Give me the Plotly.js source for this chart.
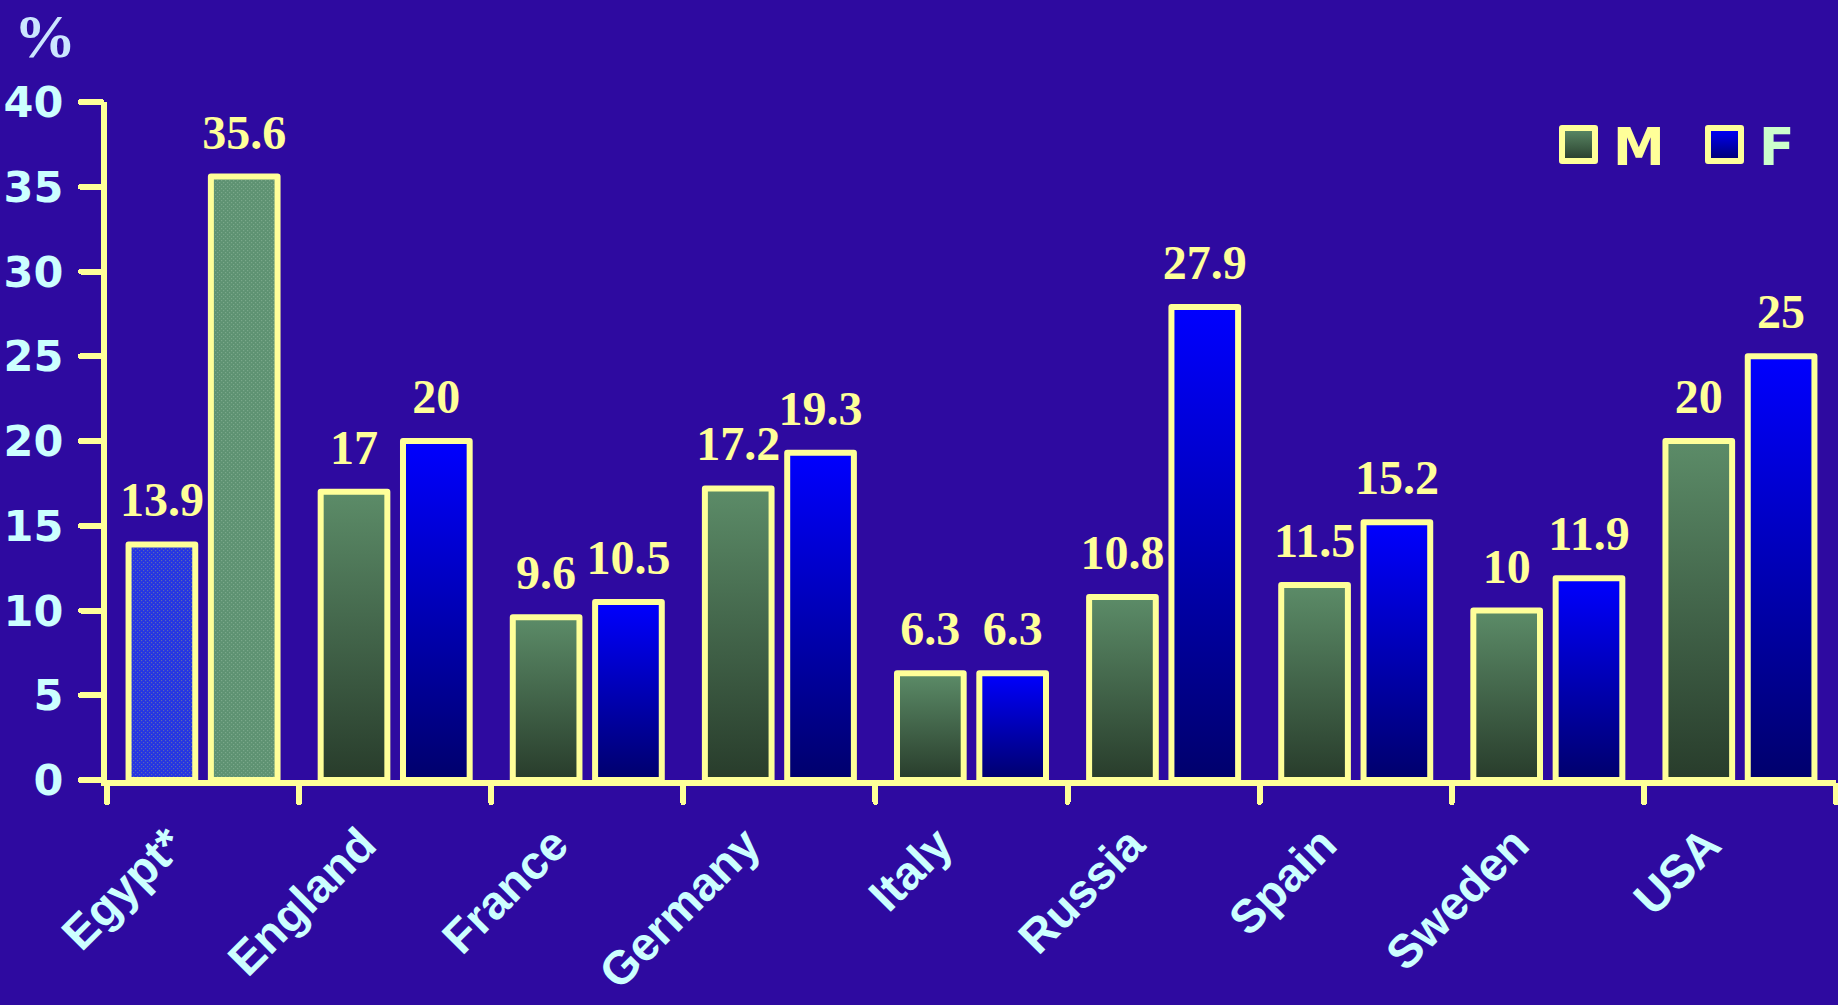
<!DOCTYPE html>
<html>
<head>
<meta charset="utf-8">
<script src="https://cdn.plot.ly/plotly-3.0.1.min.js"></script>
<style>
  html, body { margin: 0; padding: 0; background: #2e0aa0; }
  #chart { width: 1838px; height: 1005px; }
</style>
</head>
<body>
<div id="chart"></div>
<script>
// ---- data ----
var categories = ['Egypt*', 'England', 'France', 'Germany', 'Italy', 'Russia', 'Spain', 'Sweden', 'USA'];
var maleValues = [13.9, 17, 9.6, 17.2, 6.3, 10.8, 11.5, 10, 20];
var femaleValues = [35.6, 20, 10.5, 19.3, 6.3, 27.9, 15.2, 11.9, 25];
var seriesNames = ['M', 'F'];
var yTickValues = [0, 5, 10, 15, 20, 25, 30, 35, 40];
var yAxisLabel = '%';

// ---- styling (derived from categories) ----
var BG = '#2e0aa0';
var YELLOW = '#ffff99';
var CYAN = '#ccffff';
var isPatterned = categories.map(function (c) { return c === 'Egypt*'; });

var maleColors = isPatterned.map(function (p) { return p ? '#2434e4' : '#41684c'; });
var femaleColors = isPatterned.map(function (p) { return p ? '#5e9272' : '#0000c0'; });

var labelFont = { family: 'Liberation Serif, Times New Roman, serif', size: 48, color: YELLOW, weight: 'bold' };

function barTrace(name, values, colors) {
  return {
    type: 'bar',
    name: name,
    x: categories,
    y: values,
    texttemplate: '%{y}',
    textposition: 'outside',
    constraintext: 'none',
    cliponaxis: false,
    textfont: labelFont,
    hoverinfo: 'x+y+name',
    marker: {
      color: colors,
      line: { color: YELLOW, width: 6 }
    }
  };
}

var data = [
  barTrace('<span style="color:' + YELLOW + '">' + seriesNames[0] + '</span>', maleValues, maleColors),
  barTrace('<span style="color:#ccffcc">' + seriesNames[1] + '</span>', femaleValues, femaleColors)
];

var layout = {
  width: 1838,
  height: 1005,
  paper_bgcolor: BG,
  plot_bgcolor: BG,
  margin: { l: 107, r: 2, t: 102, b: 225 },
  barmode: 'group',
  bargap: 0.143,
  bargroupgap: 0.19,
  showlegend: true,
  legend: {
    orientation: 'h',
    x: 1, xanchor: 'right',
    y: 0.937, yanchor: 'middle',
    bgcolor: 'rgba(0,0,0,0)',
    itemwidth: 59,
    entrywidth: 72,
    font: { family: 'DejaVu Sans, Verdana, sans-serif', size: 52, color: YELLOW, weight: 'bold' },
    traceorder: 'normal'
  },
  xaxis: {
    type: 'category',
    showline: true, linecolor: YELLOW, linewidth: 6,
    ticks: 'outside', tickson: 'boundaries', ticklen: 16, tickwidth: 6, tickcolor: YELLOW,
    tickangle: -45,
    ticklabelshift: -33,
    ticklabelstandoff: 12,
    tickfont: { family: 'Liberation Sans, Arial, sans-serif', size: 47, color: CYAN, weight: 'bold' },
    showgrid: false, zeroline: false
  },
  yaxis: {
    range: [0, 40],
    tickmode: 'array', tickvals: yTickValues, ticktext: yTickValues.map(String),
    showline: true, linecolor: YELLOW, linewidth: 6,
    ticks: 'outside', ticklen: 20, tickwidth: 6, tickcolor: YELLOW,
    ticklabelstandoff: 9,
    tickfont: { family: 'DejaVu Sans, Verdana, sans-serif', size: 43, color: CYAN, weight: 'bold' },
    showgrid: false, zeroline: false
  },
  annotations: [{
    text: yAxisLabel,
    xref: 'paper', yref: 'paper',
    x: -0.055, xanchor: 'left',
    y: 1.1504, yanchor: 'top',
    showarrow: false,
    font: { family: 'Liberation Serif, Times New Roman, serif', size: 62, color: '#cce6ff', weight: 'bold' }
  }]
};

var NS = 'http://www.w3.org/2000/svg';
function ensureGradient(defs, id, top, bottom) {
  if (document.getElementById(id)) return;
  var g = document.createElementNS(NS, 'linearGradient');
  g.setAttribute('id', id);
  g.setAttribute('x1', '0'); g.setAttribute('y1', '0');
  g.setAttribute('x2', '0'); g.setAttribute('y2', '1');
  [['0', top], ['1', bottom]].forEach(function (s) {
    var st = document.createElementNS(NS, 'stop');
    st.setAttribute('offset', s[0]);
    st.setAttribute('stop-color', s[1]);
    g.appendChild(st);
  });
  defs.appendChild(g);
}
function ensureDots(defs, id, bg, fg) {
  if (document.getElementById(id)) return;
  var p = document.createElementNS(NS, 'pattern');
  p.setAttribute('id', id);
  p.setAttribute('patternUnits', 'userSpaceOnUse');
  p.setAttribute('width', '4'); p.setAttribute('height', '4');
  var r0 = document.createElementNS(NS, 'rect');
  r0.setAttribute('width', '4'); r0.setAttribute('height', '4'); r0.setAttribute('fill', bg);
  p.appendChild(r0);
  [[0, 0], [2, 2]].forEach(function (xy) {
    var r = document.createElementNS(NS, 'rect');
    r.setAttribute('x', xy[0]); r.setAttribute('y', xy[1]);
    r.setAttribute('width', '1.2'); r.setAttribute('height', '1.2'); r.setAttribute('fill', fg);
    p.appendChild(r);
  });
  defs.appendChild(p);
}

var LEGEND_SCALE = 2.75;
var TEXT_LIFT = 'translate(0,-15) ';

function applyStyling() {
  var gd = document.getElementById('chart');
  var defs = gd.querySelector('.main-svg defs');
  if (!defs) return;
  ensureGradient(defs, 'gradM', '#5c8c68', '#283c2b');
  ensureGradient(defs, 'gradF', '#0000ff', '#00006c');
  ensureDots(defs, 'dotsM', '#2434e4', '#5a66b4');
  ensureDots(defs, 'dotsF', '#5e9272', '#7aa88a');
  var ids = ['gradM', 'gradF'];
  var dotIds = ['dotsM', 'dotsF'];
  var traces = gd.querySelectorAll('.barlayer .trace');
  traces.forEach(function (t, i) {
    t.querySelectorAll('.point').forEach(function (p, j) {
      var path = p.querySelector('path');
      if (path) {
        path.style.strokeLinejoin = 'round';
        path.style.fill = 'url(#' + (isPatterned[j] ? dotIds[i] : ids[i]) + ')';
      }
      var txt = p.querySelector('text');
      if (txt) {
        var tr = txt.getAttribute('transform') || '';
        if (tr.indexOf(TEXT_LIFT) !== 0) txt.setAttribute('transform', TEXT_LIFT + tr);
      }
    });
  });
  gd.querySelectorAll('path.xtick, path.ytick').forEach(function (p) {
    p.style.strokeLinecap = 'round';
  });
  var legItems = gd.querySelectorAll('.legend .traces');
  legItems.forEach(function (t, i) {
    var path = t.querySelector('.legendpoints path');
    if (!path) return;
    var tr = path.getAttribute('transform') || '';
    if (tr.indexOf('scale(') < 0) path.setAttribute('transform', tr + ' scale(' + LEGEND_SCALE + ')');
    path.style.fill = 'url(#' + ids[i] + ')';
    path.style.stroke = YELLOW;
    path.style.strokeWidth = (6 / LEGEND_SCALE) + 'px';
    path.style.strokeLinejoin = 'round';
  });
}

var gd = document.getElementById('chart');
Plotly.newPlot(gd, data, layout, { displayModeBar: false, responsive: false }).then(function () {
  applyStyling();
  gd.on('plotly_afterplot', applyStyling);
});
</script>
</body>
</html>
